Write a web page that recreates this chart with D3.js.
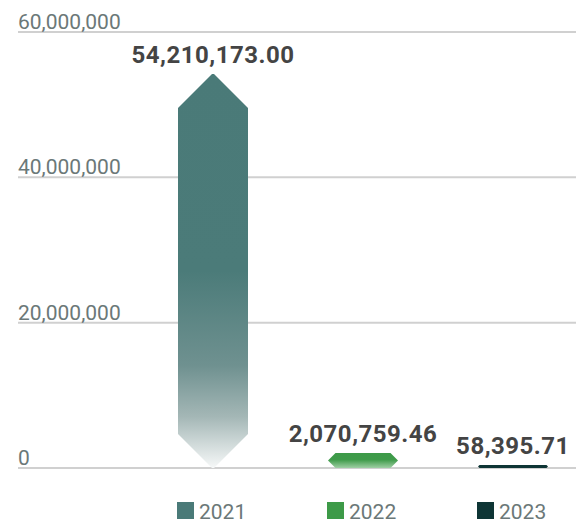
<!DOCTYPE html>
<html>
<head>
<meta charset="utf-8">
<script src="https://cdn.jsdelivr.net/npm/d3@7"></script>
<style>
  html, body { margin: 0; padding: 0; background: #fff; }
  svg { display: block; font-family: Roboto, "Noto Sans", sans-serif; }
</style>
</head>
<body>
<svg id="chart" width="576" height="523"></svg>
<script>
// Yearly totals
const years = ["2021", "2022", "2023"];
const values = [54210173.00, 2070759.46, 58395.71];
const labels = ["54,210,173.00", "2,070,759.46", "58,395.71"];
const colors = ["#4a7a78", "#3d9a48", "#0e3535"];
const yTicks = [0, 20000000, 40000000, 60000000];

// fade stops per column: [offset, colour]
const fades = [
  [[0, "#4a7a78"], [0.5, "#4b7b79"], [0.74, "#6f9190"], [0.87, "#a4b7b6"], [1, "#f6f8f8"]],
  [[0, "#3d9a48"], [0.45, "#3f9b4a"], [1, "#9fcfa4"]],
  [[0, "#0e3535"], [1, "#0e3535"]]
];

const svg = d3.select("#chart");
const W = 576;

const y = d3.scaleLinear().domain([0, 60000000]).range([468, 32]);
const x = d3.scalePoint().domain(years).range([213, 513]);
const barW = 70;

// gridlines + tick labels
const grid = svg.append("g");
grid.selectAll("line").data(yTicks).join("line")
  .attr("x1", 18).attr("x2", W)
  .attr("y1", d => y(d)).attr("y2", d => y(d))
  .attr("stroke", "#d0d0d0").attr("stroke-width", 2);
grid.selectAll("text").data(yTicks).join("text")
  .attr("x", 18).attr("y", d => y(d) - 3)
  .attr("fill", "#6b7878").attr("font-size", 21)
  .text(d => d3.format(",")(d));

// vertical fades for each column
const defs = svg.append("defs");
fades.forEach((stops, i) => {
  const g = defs.append("linearGradient").attr("id", "fade" + i)
    .attr("x1", 0).attr("y1", 0).attr("x2", 0).attr("y2", 1);
  stops.forEach(([o, c]) => g.append("stop").attr("offset", o).attr("stop-color", c));
});

// chamfered column: corners cut at 45°, capped by half width / half height
function column(cx, top, bottom, w) {
  const h = Math.max(bottom - top, 3);
  const t = bottom - h;
  const half = w / 2;
  const c = Math.min(half, h / 2, 34);
  const l = cx - half, r = cx + half;
  return `M${l},${t + c} L${l + c},${t} L${r - c},${t} L${r},${t + c}` +
         ` L${r},${bottom - c} L${r - c},${bottom} L${l + c},${bottom} L${l},${bottom - c} Z`;
}

svg.append("g").selectAll("path").data(values).join("path")
  .attr("d", (v, i) => column(x(years[i]), y(v), y(0), barW))
  .attr("fill", (v, i) => `url(#fade${i})`);

// value labels
svg.append("g").selectAll("text").data(values).join("text")
  .attr("x", (v, i) => x(years[i]))
  .attr("y", v => Math.min(y(v), y(0) - 3) - 11)
  .attr("text-anchor", "middle")
  .attr("fill", "#444444").attr("font-size", 24).attr("font-weight", "bold")
  .attr("letter-spacing", 0.5)
  .text((v, i) => labels[i]);

// legend
const leg = svg.append("g").selectAll("g").data(years).join("g")
  .attr("transform", d => `translate(${x(d) - 36},502)`);
leg.append("rect").attr("width", 17).attr("height", 17)
  .attr("fill", (d, i) => colors[i]);
leg.append("text").attr("x", 22).attr("y", 17)
  .attr("fill", "#6b7878").attr("font-size", 21)
  .text(d => d);
</script>
</body>
</html>
